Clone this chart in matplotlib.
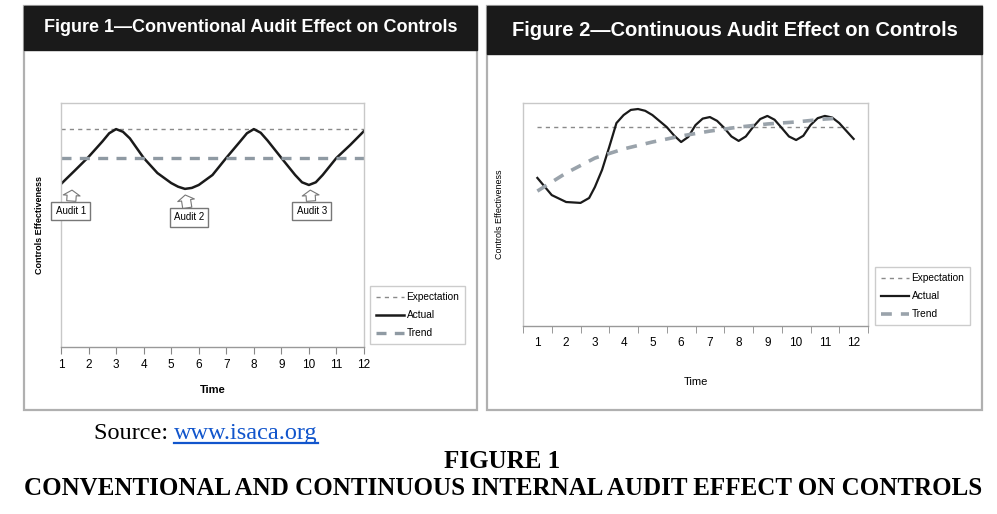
import matplotlib
matplotlib.use('Agg')
import matplotlib.pyplot as plt
from matplotlib.patches import Rectangle

W, H = 997, 514

# ---- Figure 1 (conventional audit) ----
f1_x = [1, 1.5, 2, 2.5, 2.75, 3, 3.25, 3.5, 4, 4.5, 5, 5.25, 5.5, 5.75, 6, 6.5, 7, 7.5,
        7.75, 8, 8.25, 8.5, 9, 9.5, 9.75, 10, 10.25, 10.5, 11, 11.5, 12]
f1_actual = [66.8, 72.3, 77.9, 84.2, 87.6, 89.3, 88.2, 85.5, 77.5, 71.3, 67.2, 65.7, 64.8, 65.2, 66.4,
             70.5, 77.5, 84.2, 87.6, 89.3, 87.8, 84.6, 77.5, 70.5, 67.5, 66.4, 67.5, 70.5, 77.5,
             82.8, 88.5]
f1_expect = 89.3
f1_trend = 77.5
audit_labels = ['Audit 1', 'Audit 2', 'Audit 3']
audit_box_x = [1.35, 5.64, 10.1]
audit_box_y = [55.9, 53.1, 55.9]
audit_tip_x = [1.40, 5.51, 10.05]
audit_tip_y = [64.3, 62.3, 64.3]

# ---- Figure 2 (continuous audit) ----
f2_x = [1, 1.5, 2, 2.5, 2.8, 3, 3.25, 3.5, 3.75, 4, 4.25, 4.5, 4.75, 5, 5.5, 5.75, 6, 6.25,
        6.5, 6.75, 7, 7.25, 7.5, 7.75, 8, 8.25, 8.5, 8.75, 9, 9.25, 9.5, 9.75, 10, 10.25,
        10.5, 10.75, 11, 11.25, 11.5, 12]
f2_actual = [66.4, 58.7, 55.6, 55.2, 57.4, 62.3, 70.0, 80.3, 91.0, 94.6, 96.9, 97.3, 96.5,
             94.6, 89.2, 85.5, 82.5, 84.8, 90.1, 93.0, 93.7, 92.0, 88.8, 85.0, 83.0, 85.0,
             89.2, 92.8, 94.2, 92.5, 88.8, 85.0, 83.4, 85.3, 90.1, 93.2, 94.2, 93.5, 91.0, 83.9]
f2_trend_x = [1, 2, 3, 4, 5, 6, 7, 8, 9, 10, 11, 11.6]
f2_trend = [60.5, 68.6, 75.3, 79.4, 82.5, 85.2, 87.4, 89.2, 90.6, 91.5, 92.8, 93.3]
f2_expect = 89.2
time_ticks = list(range(1, 13))

sans = ['Liberation Sans', 'DejaVu Sans']
serif = ['Liberation Serif', 'DejaVu Serif']

fig = plt.figure(figsize=(W / 100, H / 100), dpi=100)


def fx(px):
    return px / W


def fy(py):
    return 1 - py / H


def add_frame(x0, y0, x1, y1, title_bottom, title, tx, size):
    fig.patches.append(Rectangle((fx(x0), fy(y1)), fx(x1 - x0), (y1 - y0) / H,
                                 transform=fig.transFigure, fill=False,
                                 ec='#b0b0b0', lw=1.6))
    fig.patches.append(Rectangle((fx(x0), fy(title_bottom)), fx(x1 - x0), (title_bottom - y0) / H,
                                 transform=fig.transFigure, fc='#1a1a1a', ec='#1a1a1a'))
    fig.text(fx(tx), fy((y0 + title_bottom) / 2), title, color='white', fontsize=size,
             fontweight='bold', ha='center', va='center', family=sans)


add_frame(24, 6, 477, 410, 50, 'Figure 1\u2014Conventional Audit Effect on Controls', 251, 13)
add_frame(487, 6, 982, 410, 54, 'Figure 2\u2014Continuous Audit Effect on Controls', 735, 14.5)


def style_axes(ax):
    for s in ax.spines.values():
        s.set_color('#c8c8c8')
        s.set_linewidth(1.0)
    ax.spines['bottom'].set_color('#999999')
    ax.set_yticks([])
    ax.tick_params(axis='x', length=5, color='#888888', labelsize=8.5)
    for lab in ax.get_xticklabels():
        lab.set_family(sans)


def add_legend(ax, px, py):
    leg = ax.legend(loc='upper left', bbox_to_anchor=(fx(px), fy(py)), bbox_transform=fig.transFigure,
                    fancybox=False, edgecolor='#c0c0c0', handlelength=2.8, borderaxespad=0,
                    handletextpad=0.2, borderpad=0.6, labelspacing=0.8,
                    prop={'family': sans, 'size': 7.3})
    leg.get_frame().set_linewidth(1.0)
    return leg


# ---- panel 1 ----
ax1 = fig.add_axes([fx(61), fy(347), fx(364 - 61), (347 - 103) / H])
ax1.axhline(f1_expect, color='#8a8a8a', lw=1.0, ls=(0, (3, 3)), label='Expectation')
ax1.plot(f1_x, f1_actual, color='#1a1a1a', lw=1.8, label='Actual')
ax1.axhline(f1_trend, color='#8f9aa3', lw=2.4, ls=(0, (3, 2.5)), label='Trend')
ax1.set_xlim(1, 12)
ax1.set_ylim(0, 100)
ax1.set_xticks(time_ticks)
style_axes(ax1)
ax1.tick_params(axis='x', pad=4)
ax1.set_xlabel('Time', fontsize=8, fontweight='bold', family=sans, labelpad=10)
ax1.set_ylabel('Controls Effectiveness', fontsize=6.5, fontweight='bold', family=sans, labelpad=12)
for lab, bx, by, tx, ty in zip(audit_labels, audit_box_x, audit_box_y, audit_tip_x, audit_tip_y):
    ax1.annotate(lab, xy=(tx, ty), xytext=(bx, by), ha='center', va='center',
                 fontsize=7, family=sans, annotation_clip=False,
                 bbox=dict(boxstyle='square,pad=0.42', fc='white', ec='#777777', lw=1.0),
                 arrowprops=dict(arrowstyle='simple,head_length=0.35,head_width=1.1,tail_width=0.6',
                                 mutation_scale=11, fc='white', ec='#777777', lw=0.8,
                                 shrinkA=0, shrinkB=0))
add_legend(ax1, 370, 286)

# ---- panel 2 ----
ax2 = fig.add_axes([fx(523), fy(326), fx(868 - 523), (326 - 103) / H])
ax2.plot([1, 11.8], [f2_expect, f2_expect], color='#8a8a8a', lw=1.0, ls=(0, (3, 3)), label='Expectation')
ax2.plot(f2_x, f2_actual, color='#1a1a1a', lw=1.6, label='Actual')
ax2.plot(f2_trend_x, f2_trend, color='#9aa3ab', lw=2.6, ls=(0, (3, 2.5)), label='Trend')
ax2.set_xlim(0.5, 12.5)
ax2.set_ylim(0, 100)
ax2.set_xticks(time_ticks)
ax2.set_xticks([t + 0.5 for t in [0] + time_ticks], minor=True)
style_axes(ax2)
ax2.tick_params(axis='x', which='major', length=0, pad=8)
ax2.tick_params(axis='x', which='minor', length=5, color='#888888')
ax2.set_xlabel('Time', fontsize=8, family=sans, labelpad=20)
ax2.set_ylabel('Controls Effectiveness', fontsize=6.5, family=sans, labelpad=14)
add_legend(ax2, 875, 267)

# ---- caption ----
t = fig.text(fx(94), fy(439), 'Source: ', fontsize=17.5, family=serif, va='baseline', ha='left')
fig.canvas.draw()
bb = t.get_window_extent()
link_text = fig.text(bb.x1 / W, fy(439), 'www.isaca.org', fontsize=17.5, family=serif,
                     va='baseline', ha='left', color='#1155cc')
link = link_text.get_window_extent(renderer=fig.canvas.get_renderer())
fig.add_artist(plt.Line2D([link.x0 / W, link.x1 / W], [fy(443), fy(443)], color='#1155cc', lw=1.6,
                          transform=fig.transFigure))
fig.text(fx(502), fy(468), 'FIGURE 1', fontsize=18, fontweight='bold', family=serif,
         ha='center', va='baseline')
fig.text(fx(503), fy(495), 'CONVENTIONAL AND CONTINUOUS INTERNAL AUDIT EFFECT ON CONTROLS',
         fontsize=18, fontweight='bold', family=serif, ha='center', va='baseline')

fig.savefig('out.png', dpi=100)
